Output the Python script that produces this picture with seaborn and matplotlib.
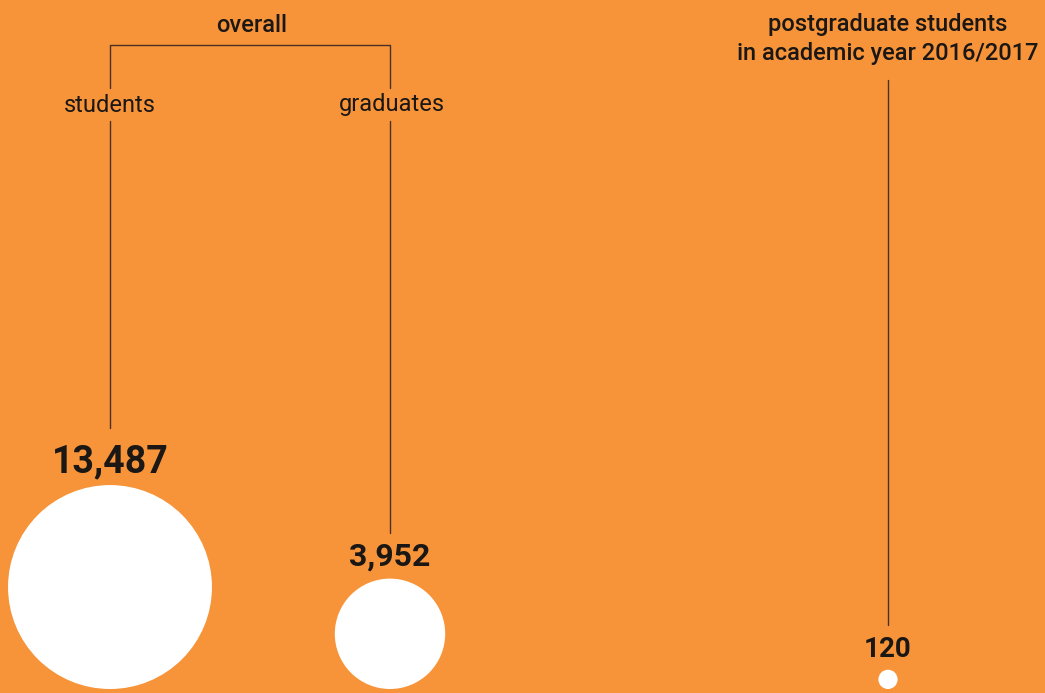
import matplotlib
matplotlib.use("Agg")
import numpy as np
import pandas as pd
import seaborn as sns
import matplotlib.pyplot as plt

# ---- data ----
categories = ["students", "graduates", "postgraduate students\nin academic year 2016/2017"]
values = [13487, 3952, 120]
value_labels = ["13,487", "3,952", "120"]
group_label = "overall"

# ---- style / layout ----
BG = "#F7943A"
INK = "#1a1715"
LINE = "#4a3020"
W, H, DPI = 1045, 693, 100
x_pos = [110, 390, 888]
BASE = 689            # bottom of circles (px)
K = 0.878             # px radius per sqrt(value)
num_sizes = [27, 23, 20]

sns.set_theme(style="white")
plt.rcParams["font.family"] = ["Roboto", "DejaVu Sans"]

fig = plt.figure(figsize=(W / DPI, H / DPI), dpi=DPI, facecolor=BG)
ax = fig.add_axes([0, 0, 1, 1])
ax.set_facecolor(BG)
ax.set_xlim(0, W)
ax.set_ylim(H, 0)
ax.set_axis_off()

radii = K * np.sqrt(np.array(values, dtype=float))
df = pd.DataFrame({
    "category": categories,
    "value": values,
    "x": x_pos,
    "y": BASE - radii,
})
vmax = max(values)
smax = (2 * K * np.sqrt(vmax) * 72 / DPI) ** 2
sns.scatterplot(data=df, x="x", y="y", size="value", sizes=(0, smax),
                size_norm=(0, vmax), color="white", linewidth=0,
                legend=False, ax=ax, zorder=3)

# value labels
for (x, y, r), lab, fs in zip(zip(df["x"], df["y"], radii), value_labels, num_sizes):
    ax.text(x, y - r - 13, lab, ha="center", va="baseline", fontsize=fs,
            fontweight="bold", color=INK)

# connector lines
lw = 1.0
ax.plot([110, 110, 390, 390], [88, 45, 45, 88], color=LINE, lw=lw)
ax.plot([110, 110], [121, 428], color=LINE, lw=lw)
ax.plot([390, 390], [121, 533], color=LINE, lw=lw)
ax.plot([888, 888], [80, 625], color=LINE, lw=lw)

# category labels
ax.text(252, 25, group_label, ha="center", va="center", fontsize=17,
        fontweight="medium", color=INK)
ax.text(110, 105, categories[0], ha="center", va="center", fontsize=17, color=INK)
ax.text(392, 105, categories[1], ha="center", va="center", fontsize=17, color=INK)
ax.text(888, 39, categories[2], ha="center", va="center", fontsize=17,
        fontweight="medium", color=INK, linespacing=1.3)

fig.savefig("out.png", dpi=DPI, facecolor=BG)
